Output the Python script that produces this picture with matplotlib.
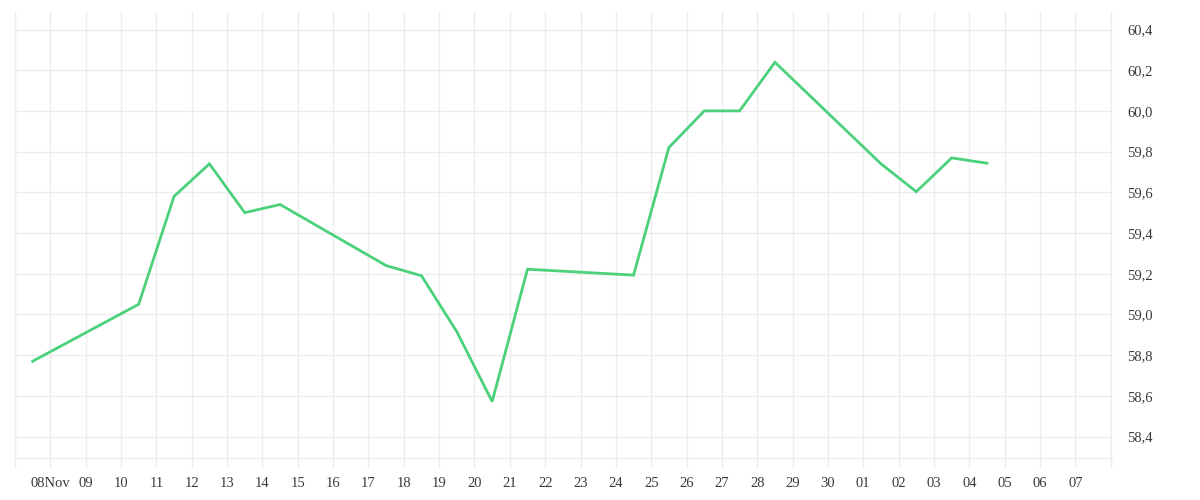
import matplotlib
matplotlib.use("Agg")
import matplotlib.pyplot as plt
import matplotlib.dates as mdates
import matplotlib.ticker as mticker
import pandas as pd
import numpy as np

# trading days (weekends skipped) and the values
datas = ["2025-11-07", "2025-11-10", "2025-11-11", "2025-11-12", "2025-11-13",
         "2025-11-14", "2025-11-17", "2025-11-18", "2025-11-19", "2025-11-20",
         "2025-11-21", "2025-11-24", "2025-11-25", "2025-11-26", "2025-11-27",
         "2025-11-28", "2025-12-01", "2025-12-02", "2025-12-03", "2025-12-04"]
valores = [58.77, 59.05, 59.58, 59.74, 59.50,
           59.54, 59.24, 59.19, 58.915, 58.572,
           59.222, 59.193, 59.82, 60.00, 60.00,
           60.239, 59.74, 59.603, 59.769, 59.743]

y_ticks = [58.4, 58.6, 58.8, 59.0, 59.2, 59.4, 59.6, 59.8, 60.0, 60.2, 60.4]

COR_LINHA = "#4cd17b"
COR_GRADE = "#ededed"
COR_TEXTO = "#3a3a3a"

plt.rcParams["font.family"] = ["Liberation Serif", "DejaVu Serif"]

# points sit at midday of each trading day
x = pd.to_datetime(datas) + pd.Timedelta(hours=12)

fig = plt.figure(figsize=(12, 5), dpi=100)
ax = fig.add_axes([0.0125, 0.0834, 0.9131, 0.8926])

ax.plot(x, valores, color=COR_LINHA, linewidth=2.0, solid_joinstyle="miter")

# x axis: a tick at every day, labels from 08Nov to 07
dias = pd.date_range("2025-11-07", "2025-12-08", freq="D")
rotulos = []
for i, d in enumerate(dias):
    if i == 0 or i == len(dias) - 1:
        rotulos.append("")
    elif i == 1:
        rotulos.append(d.strftime("%d") + "Nov")
    else:
        rotulos.append(d.strftime("%d"))
ax.set_xticks(mdates.date2num(dias))
ax.set_xticklabels(rotulos)
ax.set_xlim(mdates.date2num(dias[0]), mdates.date2num(dias[-1]))

# y axis on the right with comma decimals
ax.yaxis.tick_right()
ax.set_yticks(y_ticks)
ax.yaxis.set_major_formatter(mticker.FuncFormatter(lambda v, p: f"{v:.1f}".replace(".", ",")))
ax.set_ylim(58.293, 60.486)

ax.grid(True, color=COR_GRADE, linewidth=1.0)
ax.set_axisbelow(True)

ax.tick_params(axis="x", length=7.5, width=1.0, color=COR_GRADE, labelcolor=COR_TEXTO,
               labelsize=10.5, pad=6)
ax.tick_params(axis="y", length=0, labelcolor=COR_TEXTO, labelsize=10.5, pad=12)

ax.spines["top"].set_visible(False)
for lado in ["left", "right", "bottom"]:
    ax.spines[lado].set_color(COR_GRADE)
    ax.spines[lado].set_linewidth(1.0)

fig.savefig("out.png", dpi=100, facecolor="white")
